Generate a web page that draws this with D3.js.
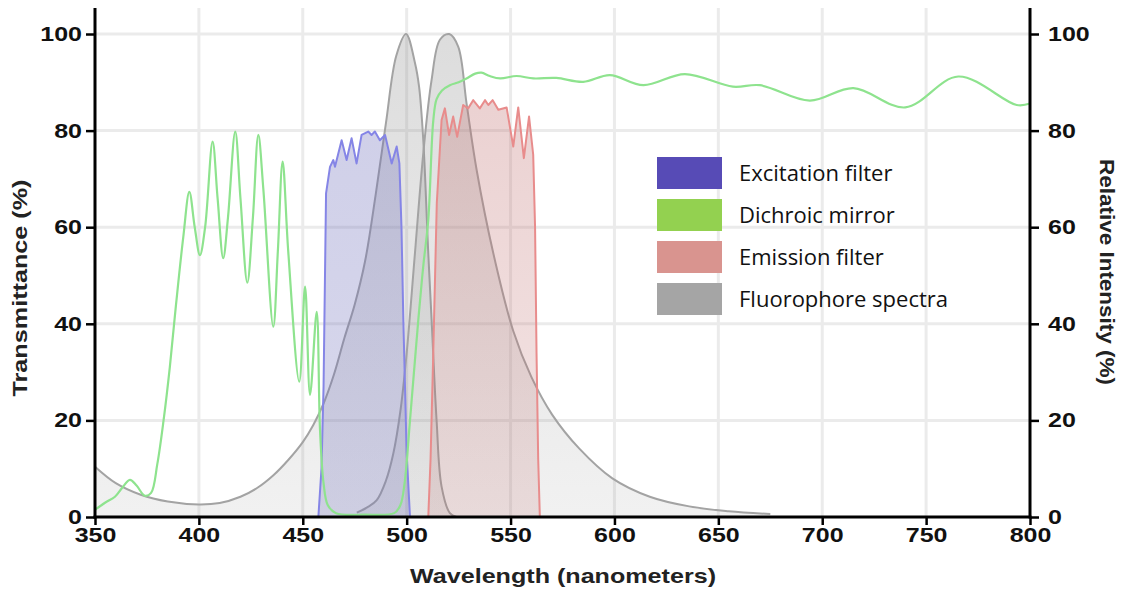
<!DOCTYPE html>
<html>
<head>
<meta charset="utf-8">
<script src="https://cdn.jsdelivr.net/npm/d3@7"></script>
<style>
  body { margin: 0; background: #fff; }
  .tick text { font-family: "Liberation Sans", Arial, sans-serif; font-weight: bold; font-size: 20px; fill: #111; }
  .axis-title { font-family: "Liberation Sans", Arial, sans-serif; font-weight: bold; font-size: 21px; fill: #222; }
  .legend-text { font-family: "Open Sans", "Noto Sans", sans-serif; font-size: 22px; fill: #111; }
</style>
</head>
<body>
<svg width="1126" height="589"></svg>
<script>
// tick labels for both axes
const xTicks = [350, 400, 450, 500, 550, 600, 650, 700, 750, 800];
const yTicks = [0, 20, 40, 60, 80, 100];

// dichroic mirror transmittance (wavelength, %)
const dichroicNm = [350, 355, 359.6, 363, 366.8, 370, 374, 377, 380, 383, 386, 389, 392.5, 395.4, 398, 400.5, 403, 406.6, 409, 411.7, 414, 417.5, 420, 423.3, 426, 428.6, 431, 435.8, 438, 440.3, 443, 448.3, 451.1, 453.5, 456.7, 458.3, 460, 462, 466, 480, 494, 497, 499, 501.6, 505.6, 508, 510.4, 512.8, 514.4, 517, 520.8, 525, 528.8, 533, 536, 540, 545, 552.9, 561, 572, 585, 597.8, 613.9, 633.9, 657, 670, 694, 715, 740, 765.5, 793.6, 800];
const dichroicVal = [1.5, 3, 4.2, 6, 7.7, 6.5, 4.4, 5, 11, 20, 31, 44, 58, 67.3, 60, 54.2, 60, 77.7, 66, 53.6, 62, 79.8, 66, 48.5, 62, 79.1, 68, 39.4, 55, 73.6, 55, 28, 47.7, 25.3, 42.5, 18, 7, 2.5, 0.8, 0.5, 0.8, 2.5, 7, 20, 40.8, 52, 61.5, 82, 86.5, 88.3, 89.4, 90, 90.8, 91.8, 92, 91.3, 90.8, 91.3, 90.8, 90.9, 90.1, 91.5, 89.4, 91.7, 89.1, 89.4, 86.2, 88.8, 84.8, 91.2, 85.3, 85.6];

// excitation filter transmittance
const excitationNm = [457.5, 459, 460, 461.2, 463.1, 464.7, 465.5, 468.7, 471.1, 473.5, 475.9, 478.3, 481.5, 483.1, 484.7, 487.1, 489.6, 492.8, 495.2, 496.5, 497.5, 498.4, 500, 501.6];
const excitationVal = [0, 10, 27, 67, 72.5, 73.9, 72.5, 78, 73.9, 78.4, 73.2, 79.1, 79.8, 79.1, 79.8, 78, 79.1, 73.2, 76.7, 73.2, 60, 40.8, 13.2, 0];

// emission filter transmittance
const emissionNm = [510.4, 511.5, 512.8, 514.5, 516.8, 518.4, 520.4, 522.4, 524.3, 527.2, 529.6, 532, 535.2, 537.7, 539.3, 541.4, 544.1, 548.1, 551.3, 553.7, 556.4, 558.9, 560.9, 561.8, 562.5, 563.3, 564.1];
const emissionVal = [0, 12, 34, 65, 82.2, 84.6, 79.1, 82.9, 78.7, 85.3, 84.6, 86.3, 84.6, 86.3, 85.3, 86.3, 84.3, 84.8, 76.7, 84.8, 74.3, 82.9, 75, 60, 34, 12, 0];

// fluorophore absorption spectrum (relative intensity)
const absorbNm = [350, 360, 372, 385, 400, 410, 420, 428, 436, 443, 450, 455, 460, 465, 470, 475, 480, 485, 490, 495, 499.7, 504, 506, 508, 510.4, 512, 514.4, 516.8, 520.8, 524];
const absorbVal = [10.4, 7, 4.6, 3.2, 2.6, 2.9, 4.2, 6, 8.7, 11.8, 15.5, 19, 23.5, 29.5, 37, 44, 53, 66.5, 81.5, 95.5, 100, 94, 89, 78, 54.6, 40.8, 20, 6.3, 0.8, 0];

// fluorophore emission spectrum (relative intensity)
const emitNm = [476, 481, 485.6, 490, 493.6, 497, 500, 504, 508, 512, 516, 520.5, 524.8, 528.8, 533.7, 541.7, 551.3, 560, 570, 583, 599, 617, 636, 655, 675];
const emitVal = [0.9, 2, 3.5, 7.5, 13.2, 22, 33.9, 54.7, 75.3, 90.5, 98.8, 100, 97.4, 85.7, 71.8, 54.6, 38.5, 29, 21.2, 14.2, 8, 4.2, 2.2, 1.2, 0.6];

// legend entries
const legendLabels = ["Excitation filter", "Dichroic mirror", "Emission filter", "Fluorophore spectra"];
const legendColors = ["#574bb6", "#93d150", "#d9948f", "#a5a5a5"];

const svg = d3.select("svg");

const xScale = d3.scaleLinear().domain([350, 800]).range([95, 1030]);
const yScale = d3.scaleLinear().domain([0, 100]).range([517, 34]);

const zip = (xs, ys) => xs.map((x, i) => [x, ys[i]]);

// stretch text horizontally, the original uses a wide bold face
const widen = (sel, factor) => {
  sel.each(function () {
    const w = this.getComputedTextLength();
    d3.select(this).attr("textLength", w * factor).attr("lengthAdjust", "spacingAndGlyphs");
  });
};

// gradient fills, darker at the top
const defs = svg.append("defs");
const makeGradient = (id, color, topOpacity, bottomOpacity) => {
  const grad = defs
    .append("linearGradient")
    .attr("id", id)
    .attr("gradientUnits", "userSpaceOnUse")
    .attr("x1", 0)
    .attr("x2", 0)
    .attr("y1", yScale(100))
    .attr("y2", yScale(0));
  grad.append("stop").attr("offset", 0).attr("stop-color", color).attr("stop-opacity", topOpacity);
  grad.append("stop").attr("offset", 1).attr("stop-color", color).attr("stop-opacity", bottomOpacity);
};
makeGradient("grayFill", "#8c8c8c", 0.3, 0.12);
makeGradient("blueFill", "#6a6ab8", 0.33, 0.26);
makeGradient("redFill", "#c07070", 0.34, 0.18);

// grid
const grid = svg.append("g").attr("class", "grid");
grid
  .selectAll("line.v")
  .data(xTicks.slice(1, -1))
  .enter()
  .append("line")
  .attr("x1", (d) => xScale(d))
  .attr("x2", (d) => xScale(d))
  .attr("y1", 8)
  .attr("y2", yScale(0))
  .attr("stroke", "#ebebeb")
  .attr("stroke-width", 3);
grid
  .selectAll("line.h")
  .data(yTicks.slice(1))
  .enter()
  .append("line")
  .attr("x1", xScale(350))
  .attr("x2", xScale(800))
  .attr("y1", (d) => yScale(d))
  .attr("y2", (d) => yScale(d))
  .attr("stroke", "#ebebeb")
  .attr("stroke-width", 3);

const plot = svg.append("g").attr("class", "plot");

// draw one series: fill then outline, with its own curve
const drawSeries = (data, curve, fill, stroke, width) => {
  const area = d3
    .area()
    .x((d) => xScale(d[0]))
    .y0(yScale(0))
    .y1((d) => yScale(Math.max(0, d[1])))
    .curve(curve);
  const line = d3
    .line()
    .x((d) => xScale(d[0]))
    .y((d) => yScale(d[1]))
    .curve(curve);
  if (fill) plot.append("path").datum(data).attr("d", area).attr("fill", fill);
  plot
    .append("path")
    .datum(data)
    .attr("d", line)
    .attr("fill", "none")
    .attr("stroke", stroke)
    .attr("stroke-width", width)
    .attr("stroke-linejoin", "round");
};

const smooth = d3.curveCatmullRom.alpha(0.5);
drawSeries(zip(absorbNm, absorbVal), smooth, "url(#grayFill)", "#a3a3a3", 2);
drawSeries(zip(emitNm, emitVal), smooth, "url(#grayFill)", "#a3a3a3", 2);
drawSeries(zip(excitationNm, excitationVal), d3.curveLinear, "url(#blueFill)", "#8585e6", 2);
drawSeries(zip(emissionNm, emissionVal), d3.curveLinear, "url(#redFill)", "#e88c8c", 2);
drawSeries(zip(dichroicNm, dichroicVal), smooth, null, "#8ee38e", 2.2);

// axes
const xAxis = d3.axisBottom(xScale).tickValues(xTicks).tickSize(8).tickSizeOuter(0).tickPadding(3);
const yAxisL = d3.axisLeft(yScale).tickValues(yTicks).tickSize(9).tickSizeOuter(0).tickPadding(4);
const yAxisR = d3.axisRight(yScale).tickValues(yTicks).tickSize(9).tickSizeOuter(0).tickPadding(9);

const styleAxis = (g) => {
  g.select(".domain").remove();
  g.selectAll(".tick line").attr("stroke", "#000").attr("stroke-width", 2.5);
  g.selectAll(".tick text").call(widen, 1.25);
};

svg.append("g").attr("transform", `translate(0,${yScale(0)})`).call(xAxis).call(styleAxis);
svg.append("g").attr("transform", `translate(${xScale(350)},0)`).call(yAxisL).call(styleAxis);
svg.append("g").attr("transform", `translate(${xScale(800)},0)`).call(yAxisR).call(styleAxis);

// thick axis lines
const axisLines = svg.append("g").attr("stroke", "#000").attr("stroke-width", 3);
axisLines.append("line").attr("x1", xScale(350)).attr("x2", xScale(350)).attr("y1", 8).attr("y2", yScale(0) + 1.5);
axisLines.append("line").attr("x1", xScale(800)).attr("x2", xScale(800)).attr("y1", 8).attr("y2", yScale(0) + 1.5);
axisLines.append("line").attr("x1", xScale(350) - 1.5).attr("x2", xScale(800) + 1.5).attr("y1", yScale(0)).attr("y2", yScale(0));

// axis titles
svg
  .append("text")
  .attr("class", "axis-title")
  .attr("text-anchor", "middle")
  .attr("transform", `translate(27,288) rotate(-90)`)
  .attr("textLength", 217)
  .attr("lengthAdjust", "spacingAndGlyphs")
  .text("Transmittance (%)");
svg
  .append("text")
  .attr("class", "axis-title")
  .attr("text-anchor", "middle")
  .attr("transform", `translate(1100,272) rotate(90)`)
  .attr("textLength", 226)
  .attr("lengthAdjust", "spacingAndGlyphs")
  .text("Relative Intensity (%)");
svg
  .append("text")
  .attr("class", "axis-title")
  .attr("text-anchor", "middle")
  .attr("x", 563)
  .attr("y", 583)
  .attr("textLength", 306)
  .attr("lengthAdjust", "spacingAndGlyphs")
  .text("Wavelength (nanometers)");

// legend
const legend = svg
  .append("g")
  .attr("class", "legend")
  .attr("transform", "translate(657,157)")
  .selectAll("g")
  .data(legendLabels)
  .enter()
  .append("g")
  .attr("transform", (d, i) => `translate(0,${i * 42})`);
legend
  .append("rect")
  .attr("width", 65)
  .attr("height", 32)
  .attr("fill", (d, i) => legendColors[i]);
legend
  .append("text")
  .attr("class", "legend-text")
  .attr("x", 82)
  .attr("y", 24)
  .text((d) => d);
</script>
</body>
</html>
